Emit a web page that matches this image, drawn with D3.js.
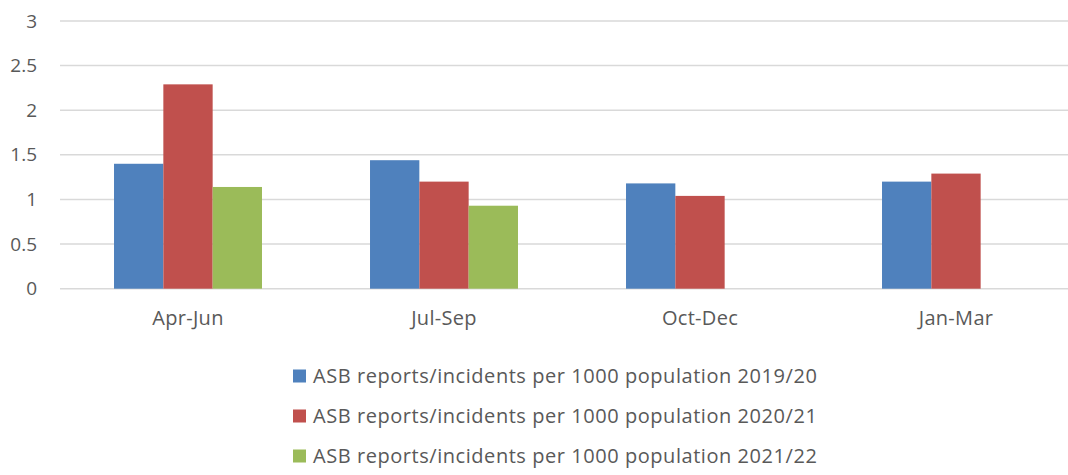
<!DOCTYPE html>
<html>
<head>
<meta charset="utf-8">
<script src="https://cdn.jsdelivr.net/npm/d3@7"></script>
<style>
  body { margin: 0; background: #fff; }
  text { font-family: "Open Sans", sans-serif; fill: #595959; }
</style>
</head>
<body>
<svg id="chart" width="1068" height="475"></svg>
<script>
// quarters on the x axis
var quarters = ["Apr-Jun", "Jul-Sep", "Oct-Dec", "Jan-Mar"];
var seriesNames = [
  "ASB reports/incidents per 1000 population 2019/20",
  "ASB reports/incidents per 1000 population 2020/21",
  "ASB reports/incidents per 1000 population 2021/22"
];
var values2019 = [1.40, 1.44, 1.18, 1.20];
var values2020 = [2.29, 1.20, 1.04, 1.29];
var values2021 = [1.14, 0.93, null, null]; // no data yet for later quarters
var yTicks = [0, 0.5, 1, 1.5, 2, 2.5, 3];
var colors = ["#4f81bd", "#c0504d", "#9bbb59"];

var allSeries = [values2019, values2020, values2021];

var svg = d3.select("#chart");

var x0 = d3.scaleBand()
  .domain(quarters)
  .range([60, 1084])
  .paddingInner(0.422)
  .paddingOuter(0.211);

var x1 = d3.scaleBand()
  .domain(d3.range(allSeries.length))
  .range([0, x0.bandwidth()]);

var y = d3.scaleLinear()
  .domain([0, 3])
  .range([288.7, 21]);

// gridlines
svg.append("g")
  .selectAll("line")
  .data(yTicks)
  .enter().append("line")
  .attr("x1", 60)
  .attr("x2", 1084)
  .attr("y1", function (d) { return y(d); })
  .attr("y2", function (d) { return y(d); })
  .attr("stroke", "#d9d9d9")
  .attr("stroke-width", 1.5);

// y axis labels
var yAxis = d3.axisLeft(y).tickValues(yTicks).tickSize(0).tickPadding(0).tickFormat(d3.format("~g"));
var yg = svg.append("g")
  .attr("transform", "translate(37,0)")
  .call(yAxis);
yg.select(".domain").remove();
yg.selectAll("text")
  .style("font-family", "'Open Sans', sans-serif")
  .style("font-size", "19px")
  .attr("fill", "#595959");

// bars
var groups = svg.append("g")
  .selectAll("g")
  .data(quarters)
  .enter().append("g")
  .attr("transform", function (d) { return "translate(" + x0(d) + ",0)"; });

groups.selectAll("rect")
  .data(function (d, i) {
    return allSeries.map(function (s, k) { return { k: k, v: s[i] }; })
      .filter(function (e) { return e.v != null; });
  })
  .enter().append("rect")
  .attr("x", function (d) { return x1(d.k); })
  .attr("width", x1.bandwidth())
  .attr("y", function (d) { return y(d.v); })
  .attr("height", function (d) { return y(0) - y(d.v); })
  .attr("fill", function (d) { return colors[d.k]; });

// x axis labels
var xAxis = d3.axisBottom(x0).tickSize(0).tickPadding(0);
var xg = svg.append("g")
  .attr("transform", "translate(0,311)")
  .call(xAxis);
xg.select(".domain").remove();
xg.selectAll("text")
  .style("font-family", "'Open Sans', sans-serif")
  .style("font-size", "20px")
  .style("letter-spacing", "0.3px")
  .attr("fill", "#595959");

// legend
var legend = svg.append("g")
  .selectAll("g")
  .data(seriesNames)
  .enter().append("g")
  .attr("transform", function (d, i) { return "translate(293," + (376 + i * 40) + ")"; });

legend.append("rect")
  .attr("x", 0)
  .attr("y", -6.5)
  .attr("width", 13)
  .attr("height", 13)
  .attr("fill", function (d, i) { return colors[i]; });

legend.append("text")
  .attr("x", 20)
  .attr("dy", "0.35em")
  .style("font-size", "20px")
  .style("letter-spacing", "0.55px")
  .text(function (d) { return d; });
</script>
</body>
</html>
